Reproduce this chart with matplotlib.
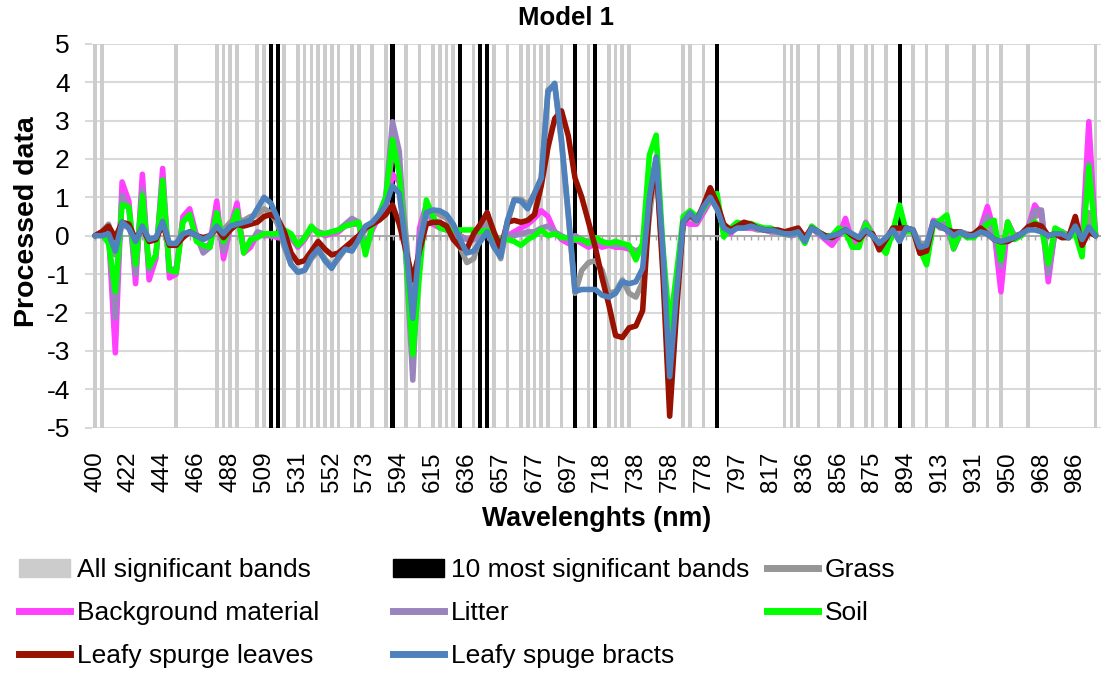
import numpy as np
import matplotlib
matplotlib.use("Agg")
import matplotlib.pyplot as plt
from matplotlib.lines import Line2D
from matplotlib.patches import Patch

plt.rcParams["font.family"] = ["Liberation Sans", "DejaVu Sans"]
plt.rcParams["axes.unicode_minus"] = False

# tick labels, one every 5 bands
tick_labels = ["400", "422", "444", "466", "488", "509", "531", "552", "573", "594",
               "615", "636", "657", "677", "697", "718", "738", "758", "778", "797",
               "817", "836", "856", "875", "894", "913", "931", "950", "968", "986"]

# band indices of significant bands
all_bands = [0, 1, 12, 18, 19, 20, 21, 24, 25, 26, 27, 28, 30, 31, 32, 33, 34, 35, 36, 38, 39,
             41, 43, 44, 46, 48, 50, 51, 52, 53, 54, 56, 57, 58, 59, 61, 63, 64, 65, 66, 67,
             69, 71, 73, 74, 76, 77, 78, 79, 87, 88, 90, 92,
             102, 103, 104, 107, 110, 112, 114, 115, 117, 119, 121, 123, 126, 130, 132,
             134, 138, 148]
top_bands = [26, 27, 44, 54, 57, 58, 71, 74, 92, 119]

grass = [0, 0.1, 0.3, -0.5, 0.3, 0.2, -0.2, 0.3, -0.15, -0.1,
         0.4, -0.25, -0.25, 0.0, 0.1, 0.0, -0.1, 0.0, 0.25, 0.15,
         0.35, 0.4, 0.4, 0.5, 0.55, 0.7, 0.6, 0.3, -0.3, -0.75,
         -0.95, -0.9, -0.6, -0.4, -0.6, -0.8, -0.6, -0.35, -0.3, -0.1,
         0.15, 0.3, 0.55, 0.8, 2.2, 1.8, 0.0, -2.0, -0.3, 0.6,
         0.6, 0.55, 0.45, 0.2, -0.3, -0.7, -0.6, 0.0, 0.6, -0.2,
         -0.6, 0.3, 0.95, 0.95, 0.8, 1.1, 1.5, 3.8, 3.9, 2.4,
         0.5, -1.5, -0.9, -0.7, -0.65, -0.9, -1.5, -1.45, -1.15, -1.5,
         -1.6, -1.2, 0.5, 1.9, -0.8, -3.5, -1.6, 0.3, 0.55, 0.4,
         0.75, 1.0, 0.7, 0.2, 0.1, 0.2, 0.2, 0.2, 0.15, 0.15,
         0.15, 0.1, 0.1, 0.1, 0.1, -0.1, 0.2, 0.1, -0.05, 0.0,
         0.1, 0.1, 0.0, -0.05, 0.15, 0.0, -0.3, -0.1, 0.15, 0.0,
         0.2, 0.15, -0.2, -0.2, 0.35, 0.2, 0.2, -0.1, 0.1, 0.05,
         0.0, 0.1, 0.3, 0.0, -0.6, 0.3, 0.0, 0.0, 0.2, 0.5,
         0.55, -0.8, 0.1, 0.1, 0.0, 0.3, -0.2, 0.6, 0.0]

background = [0, 0.1, 0.1, -3.05, 1.4, 0.9, -1.25, 1.6, -1.15, -0.6,
              1.75, -1.1, -1.0, 0.5, 0.7, 0.0, -0.35, -0.2, 0.9, -0.6,
              0.2, 0.85, -0.45, -0.3, 0.05, 0.0, 0.0, -0.05, 0.05, -0.05,
              -0.3, -0.1, 0.2, 0.1, 0.0, 0.05, 0.1, 0.25, 0.3, 0.3,
              -0.4, 0.15, 0.5, 0.7, 1.6, 1.4, -0.5, -2.8, 0.2, 0.8,
              0.3, 0.2, 0.15, 0.15, 0.0, -0.1, -0.1, 0.1, 0.2, -0.2,
              -0.15, 0.0, 0.1, 0.2, 0.3, 0.45, 0.65, 0.5, 0.1, -0.1,
              -0.2, -0.1, -0.2, -0.3, -0.2, -0.3, -0.25, -0.3, -0.3, -0.35,
              -0.45, -0.3, 1.2, 2.0, -0.6, -2.9, -1.2, 0.35, 0.3, 0.3,
              0.6, 0.9, 0.9, 0.1, 0.05, 0.25, 0.2, 0.2, 0.2, 0.15,
              0.1, 0.1, 0.05, 0.0, 0.05, -0.1, 0.2, 0.05, -0.1, -0.25,
              0.0, 0.45, -0.15, -0.2, 0.2, 0.0, -0.3, -0.35, 0.1, 0.1,
              0.15, 0.1, -0.3, -0.3, 0.4, 0.35, 0.15, -0.2, 0.05, 0.0,
              0.0, 0.2, 0.76, 0.1, -1.46, 0.35, -0.05, 0.05, 0.2, 0.8,
              0.55, -1.2, 0.15, 0.1, 0.0, 0.1, -0.2, 2.97, 0.0]

litter = [0, 0.05, 0.1, -2.15, 1.05, 0.7, -1.0, 1.2, -0.9, -0.5,
          1.4, -0.9, -0.85, 0.4, 0.5, 0.0, -0.45, -0.3, 0.6, -0.4,
          0.25, 0.5, -0.3, -0.2, 0.1, 0.05, 0.0, 0.0, 0.05, -0.05,
          -0.25, -0.05, 0.2, 0.1, 0.05, 0.1, 0.15, 0.3, 0.45, 0.35,
          -0.3, 0.2, 0.55, 1.0, 2.97, 2.2, -0.6, -3.76, 0.0, 0.8,
          0.35, 0.25, 0.2, 0.15, 0.0, -0.1, -0.1, 0.1, 0.25, -0.2,
          -0.15, 0.0, 0.0, 0.05, 0.1, 0.1, 0.2, 0.25, 0.1, 0.0,
          -0.1, 0.0, -0.1, -0.15, -0.1, -0.2, -0.2, -0.25, -0.25, -0.3,
          -0.4, -0.3, 1.0, 1.9, -0.6, -3.0, -1.2, 0.35, 0.5, 0.35,
          0.65, 1.0, 0.9, 0.1, 0.1, 0.25, 0.25, 0.25, 0.2, 0.15,
          0.1, 0.1, 0.05, 0.0, 0.05, -0.1, 0.2, 0.05, -0.05, -0.1,
          0.05, 0.2, -0.05, -0.1, 0.35, 0.05, -0.3, -0.2, 0.1, 0.1,
          0.15, 0.1, -0.3, -0.35, 0.35, 0.35, 0.3, -0.35, 0.05, 0.0,
          0.0, 0.15, 0.5, 0.05, -0.8, 0.35, 0.0, 0.05, 0.2, 0.65,
          0.67, -1.0, 0.1, 0.1, 0.0, 0.15, -0.15, 1.88, 0.0]

soil = [0, 0.05, -0.2, -1.45, 0.8, 0.75, -0.75, 1.05, -0.8, -0.5,
        1.45, -0.9, -0.95, 0.35, 0.55, -0.15, -0.25, -0.3, 0.6, -0.15,
        0.2, 0.65, -0.45, -0.1, -0.05, 0.05, 0.05, 0.05, 0.15, 0.05,
        -0.25, -0.05, 0.25, 0.05, 0.05, 0.1, 0.15, 0.25, 0.3, 0.35,
        -0.5, 0.25, 0.55, 1.0, 2.5, 1.6, -0.5, -3.1, -1.0, 0.93,
        0.5, 0.2, 0.15, 0.15, 0.15, 0.15, 0.15, 0.1, 0.15, -0.1,
        -0.1, -0.1, -0.15, -0.25, -0.1, 0.0, 0.15, 0.0, 0.05, -0.05,
        -0.05, -0.1, -0.1, -0.2, -0.05, -0.15, -0.2, -0.15, -0.2, -0.25,
        -0.63, -0.2, 2.1, 2.62, -0.3, -2.4, -1.0, 0.5, 0.65, 0.5,
        0.7, 0.97, 1.1, -0.03, 0.2, 0.35, 0.3, 0.32, 0.25, 0.2,
        0.2, 0.1, 0.05, 0.05, 0.1, -0.2, 0.25, 0.1, 0.0, 0.0,
        0.2, 0.1, -0.3, -0.3, 0.3, 0.0, -0.25, -0.46, 0.1, 0.8,
        0.1, 0.1, -0.35, -0.76, 0.3, 0.4, 0.54, -0.33, 0.1, -0.05,
        -0.05, 0.15, 0.3, 0.4, -0.63, 0.36, -0.1, 0.0, 0.2, 0.36,
        0.2, -0.72, 0.2, 0.1, -0.05, 0.05, -0.55, 1.8, 0.0]

leaves = [0, 0.1, 0.25, -0.05, 0.35, 0.3, -0.1, 0.2, -0.15, -0.1,
          0.3, -0.25, -0.25, -0.05, 0.1, 0.0, -0.05, 0.0, 0.2, -0.05,
          0.15, 0.3, 0.25, 0.3, 0.35, 0.5, 0.55, 0.45, 0.1, -0.45,
          -0.7, -0.65, -0.4, -0.15, -0.35, -0.5, -0.45, -0.3, -0.15, 0.0,
          0.2, 0.3, 0.4, 0.55, 0.8, 0.3, -0.4, -1.15, -0.4, 0.3,
          0.35, 0.35, 0.25, -0.1, -0.3, -0.35, 0.05, 0.3, 0.6, 0.1,
          -0.33, 0.35, 0.4, 0.35, 0.4, 0.55, 1.3, 2.3, 3.05, 3.25,
          2.6, 1.5, 1.0, 0.35, -0.3, -1.1, -1.8, -2.6, -2.65, -2.4,
          -2.35, -1.95, 0.8, 1.95, -1.0, -4.7, -2.0, 0.35, 0.55, 0.4,
          0.8, 1.25, 0.85, 0.3, 0.15, 0.25, 0.35, 0.3, 0.2, 0.15,
          0.15, 0.15, 0.1, 0.15, 0.2, -0.05, 0.2, 0.1, 0.0, -0.05,
          0.05, 0.15, 0.0, -0.1, 0.1, 0.05, -0.37, -0.1, 0.2, 0.2,
          0.2, 0.15, -0.46, -0.4, 0.35, 0.25, 0.15, 0.1, 0.1, 0.0,
          0.05, 0.2, 0.05, -0.1, -0.16, -0.15, -0.05, 0.05, 0.23, 0.3,
          0.25, 0.0, 0.05, -0.05, -0.05, 0.5, -0.25, 0.1, 0.0]

bracts = [0, 0.0, 0.05, -0.4, 0.35, 0.2, -0.15, 0.25, -0.1, -0.05,
          0.37, -0.2, -0.2, 0.05, 0.1, 0.0, -0.1, 0.0, 0.25, 0.05,
          0.25, 0.3, 0.35, 0.4, 0.7, 1.0, 0.85, 0.45, -0.2, -0.75,
          -0.95, -0.9, -0.55, -0.35, -0.65, -0.85, -0.55, -0.35, -0.4, -0.1,
          0.25, 0.35, 0.55, 0.8, 1.3, 1.1, -0.3, -2.15, -0.2, 0.6,
          0.67, 0.65, 0.55, 0.3, -0.1, -0.45, -0.4, -0.15, 0.1, -0.3,
          -0.55, 0.4, 0.93, 0.9, 0.7, 1.1, 1.5, 3.75, 3.97, 2.5,
          0.6, -1.45, -1.4, -1.4, -1.4, -1.55, -1.6, -1.5, -1.2, -1.25,
          -1.2, -0.85, 1.0, 2.05, -0.4, -3.67, -1.5, 0.35, 0.6, 0.4,
          0.75, 1.0, 0.7, 0.2, 0.1, 0.2, 0.2, 0.25, 0.2, 0.15,
          0.15, 0.1, 0.05, 0.05, 0.1, -0.15, 0.2, 0.1, -0.05, 0.0,
          0.05, 0.15, 0.05, -0.05, 0.15, 0.0, -0.2, -0.05, 0.15, -0.15,
          0.2, 0.15, -0.3, -0.25, 0.36, 0.25, 0.15, 0.0, 0.1, 0.0,
          0.0, 0.1, 0.05, -0.1, -0.15, -0.1, -0.05, 0.05, 0.15, 0.15,
          0.1, 0.0, 0.05, 0.05, -0.05, 0.25, -0.1, 0.23, 0.0]

series = [
    ("Grass", grass, "#969696"),
    ("Background material", background, "#FF40FF"),
    ("Litter", litter, "#9A84BE"),
    ("Soil", soil, "#00FF00"),
    ("Leafy spurge leaves", leaves, "#991100"),
    ("Leafy spuge bracts", bracts, "#4F81BD"),
]

W, H = 1106, 673
fig = plt.figure(figsize=(W / 100, H / 100), dpi=100)
ax = fig.add_axes([92 / W, 1 - 427.7 / H, (1101 - 92) / W, 384 / H])

x = np.arange(len(grass))

# significant band markers
ax.bar(all_bands, 10, bottom=-5, width=0.55, color="#CCCCCC", zorder=2)
ax.bar(top_bands, 10, bottom=-5, width=0.6, color="black", zorder=3)

# zero axis with small category ticks
ax.axhline(0, color="#A6A6A6", lw=1.3, zorder=4)
ax.vlines(x, -0.12, 0, color="#A6A6A6", lw=1, zorder=4)

for i, (name, vals, col) in enumerate(series):
    ax.plot(x, vals, color=col, lw=4.0, solid_joinstyle="round",
            solid_capstyle="round", zorder=5 + i)

ax.set_ylim(-5, 5)
ax.set_xlim(-0.45, 148.8)
ax.set_yticks(range(-5, 6))
ax.yaxis.grid(True, color="#D9D9D9", lw=1.5)
ax.set_axisbelow(True)
for s in ax.spines.values():
    s.set_visible(False)
ax.tick_params(axis="y", length=5, width=1.5, color="#D9D9D9", pad=11, labelsize=19)
ax.set_xticks(x[::5])
ax.set_xticklabels(tick_labels, rotation=90, fontsize=17.5)
ax.tick_params(axis="x", length=0, pad=17)

fig.text(566 / W, 1 - 18 / H, "Model 1", ha="center", va="center",
         fontsize=18.5, fontweight="bold")
fig.text(597 / W, 1 - 519 / H, "Wavelenghts (nm)", ha="center", va="center",
         fontsize=19.3, fontweight="bold")
fig.text(27 / W, 1 - 222 / H, "Processed data", ha="center", va="center",
         rotation=90, fontsize=20.5, fontweight="bold")

# legend: three separate columns to mimic the equal column widths
def line_handle(col):
    return Line2D([0], [0], color=col, lw=5)

cols = [
    [(Patch(color="#CCCCCC"), "All significant bands"),
     (line_handle("#FF40FF"), "Background material"),
     (line_handle("#991100"), "Leafy spurge leaves")],
    [(Patch(color="black"), "10 most significant bands"),
     (line_handle("#9A84BE"), "Litter"),
     (line_handle("#4F81BD"), "Leafy spuge bracts")],
    [(line_handle("#969696"), "Grass"),
     (line_handle("#00FF00"), "Soil")],
]
for cx, items in zip([19, 393, 767], cols):
    fig.legend([h for h, _ in items], [t for _, t in items],
               loc="upper left", bbox_to_anchor=(cx / W, 1 - 558 / H),
               frameon=False, fontsize=19, handlelength=1.95, handleheight=0.65,
               handletextpad=0.25, labelspacing=0.72, borderpad=0, borderaxespad=0)

fig.savefig("out.png", dpi=100)
